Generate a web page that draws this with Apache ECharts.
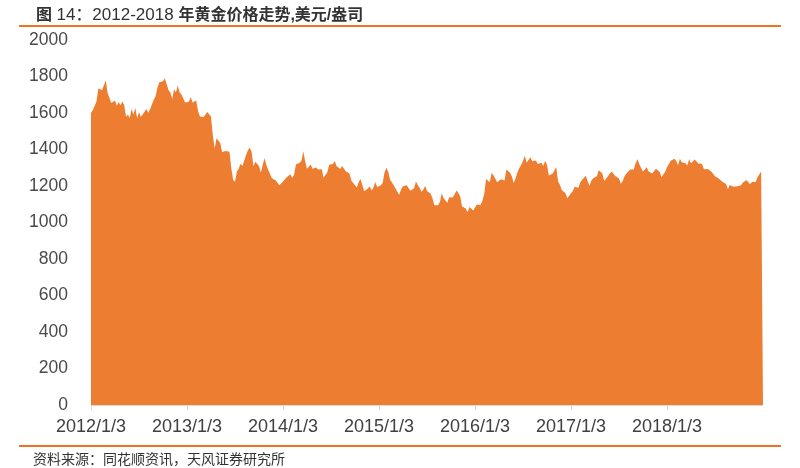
<!DOCTYPE html>
<html>
<head>
<meta charset="utf-8">
<script src="https://cdn.jsdelivr.net/npm/echarts@6/dist/echarts.min.js"></script>
<style>
html,body{margin:0;padding:0;background:#fff;}
#chart{width:800px;height:468px;}
</style>
</head>
<body>
<div id="chart"></div>
<script>
// Weekly gold price (USD/oz)
const years = [2012, 2013, 2014, 2015, 2016, 2017, 2018];
const gold2012 = [1600,1617,1640,1665,1735,1740,1725,1725,1780,1710,1700,1655,1662,1669,1640,1660,1642,1663,1642,1580,1592,1573,1622,1592,1627,1572,1604,1579,1592,1582,1622,1602,1620,1617,1672,1692,1740,1768,1772,1774,1790,1757,1724,1712,1677,1730,1714,1751,1712,1701,1696,1658];
const gold2013 = [1657,1662,1687,1658,1667,1668,1609,1581,1576,1578,1592,1605,1596,1581,1476,1405,1462,1469,1435,1386,1386,1392,1383,1387,1297,1234,1223,1278,1295,1322,1310,1313,1370,1396,1410,1387,1308,1333,1337,1310,1273,1315,1352,1315,1287,1288,1243,1250,1231,1236,1204,1213];
const gold2014 = [1225,1237,1248,1254,1264,1244,1262,1318,1323,1327,1339,1390,1335,1294,1303,1318,1294,1300,1302,1290,1293,1292,1245,1252,1275,1316,1316,1320,1337,1310,1303,1293,1309,1304,1281,1287,1268,1230,1216,1217,1192,1222,1238,1231,1171,1169,1186,1198,1175,1192,1222,1195];
const gold2015 = [1186,1204,1216,1276,1300,1278,1234,1227,1204,1213,1167,1152,1182,1198,1200,1204,1202,1174,1179,1187,1225,1205,1190,1168,1180,1201,1173,1163,1157,1131,1095,1094,1094,1113,1160,1133,1121,1108,1138,1145,1137,1156,1176,1162,1142,1088,1081,1077,1056,1085,1075,1066];
const gold2016 = [1075,1098,1097,1096,1118,1158,1239,1230,1221,1271,1259,1254,1220,1221,1237,1233,1230,1291,1290,1273,1252,1216,1242,1275,1298,1315,1339,1366,1327,1322,1357,1335,1336,1340,1320,1327,1328,1310,1338,1316,1257,1251,1267,1275,1304,1225,1207,1178,1177,1160,1133,1146];
const gold2017 = [1160,1173,1196,1204,1190,1219,1234,1238,1256,1227,1202,1229,1243,1249,1254,1286,1284,1268,1228,1228,1254,1268,1280,1271,1255,1256,1241,1212,1228,1254,1269,1264,1290,1284,1291,1325,1346,1321,1297,1280,1274,1303,1280,1272,1269,1274,1294,1287,1278,1248,1255,1278];
const gold2018 = [1303,1320,1338,1332,1350,1337,1315,1350,1330,1323,1324,1313,1347,1325,1332,1345,1336,1323,1315,1320,1292,1302,1293,1298,1279,1270,1253,1255,1241,1231,1223,1214,1211,1184,1206,1201,1196,1200,1199,1196,1203,1218,1226,1233,1233,1209,1222,1222,1222,1248,1257,1280];
const goldEnd = [1284];
const yearStartLabel = y => y + '/1/3';
const yTicks = [0, 200, 400, 600, 800, 1000, 1200, 1400, 1600, 1800, 2000];

const byYear = [gold2012, gold2013, gold2014, gold2015, gold2016, gold2017, gold2018];
const categories = [];
const values = [];
byYear.forEach((arr, k) => {
  arr.forEach((v, i) => {
    categories.push(i === 0 ? yearStartLabel(years[k]) : years[k] + '-w' + (i + 1));
    values.push(v);
  });
});
goldEnd.forEach(v => { categories.push('2018-end'); values.push(v); });

const isYearStart = (idx, val) => /\/1\/3$/.test(val);

const chart = echarts.init(document.getElementById('chart'), null, {renderer: 'canvas'});
const FONT = '"Liberation Sans", Arial, "Noto Sans CJK SC", sans-serif';
chart.setOption({
  animation: false,
  backgroundColor: '#ffffff',
  textStyle: {fontFamily: FONT},
  title: {
    text: '{a|图 }{b|14：2012-2018 }{a|年黄金价格走势,美元/盎司}',
    left: 31, top: 2,
    textStyle: {
      fontFamily: FONT,
      rich: {
        a: {fontSize: 16, fontWeight: 'bold', color: '#333333', fontFamily: FONT},
        b: {fontSize: 17, fontWeight: 'normal', color: '#333333', fontFamily: FONT}
      }
    }
  },
  graphic: [
    {type: 'line', shape: {x1: 19, y1: 26, x2: 781, y2: 26}, style: {stroke: '#EC7424', lineWidth: 2}},
    {type: 'line', shape: {x1: 19, y1: 446, x2: 781, y2: 446}, style: {stroke: '#EC7424', lineWidth: 2}},
    {type: 'text', left: 33, top: 453, style: {text: '资料来源：同花顺资讯，天风证券研究所', fontSize: 14, fill: '#333333', fontFamily: FONT}}
  ],
  grid: {left: 91, right: 37, top: 40, bottom: 63, containLabel: false},
  xAxis: {
    type: 'category',
    data: categories,
    boundaryGap: false,
    axisLine: {show: true, lineStyle: {color: '#d9d9d9', width: 1}},
    axisTick: {show: true, interval: isYearStart, length: 5, lineStyle: {color: '#d9d9d9'}},
    axisLabel: {interval: isYearStart, fontSize: 18, color: '#404040', margin: 13, fontFamily: FONT},
    splitLine: {show: false}
  },
  yAxis: {
    type: 'value',
    min: yTicks[0], max: yTicks[yTicks.length - 1], interval: 200,
    axisLine: {show: false},
    axisTick: {show: false},
    splitLine: {show: false},
    axisLabel: {fontSize: 17.5, color: '#4a4a4a', margin: 23, fontFamily: FONT, formatter: v => String(v)}
  },
  series: [{
    type: 'line',
    data: values,
    showSymbol: false,
    symbol: 'none',
    lineStyle: {width: 0},
    areaStyle: {color: '#ED7D31', opacity: 1},
    itemStyle: {color: '#ED7D31'}
  }]
});
</script>
</body>
</html>
